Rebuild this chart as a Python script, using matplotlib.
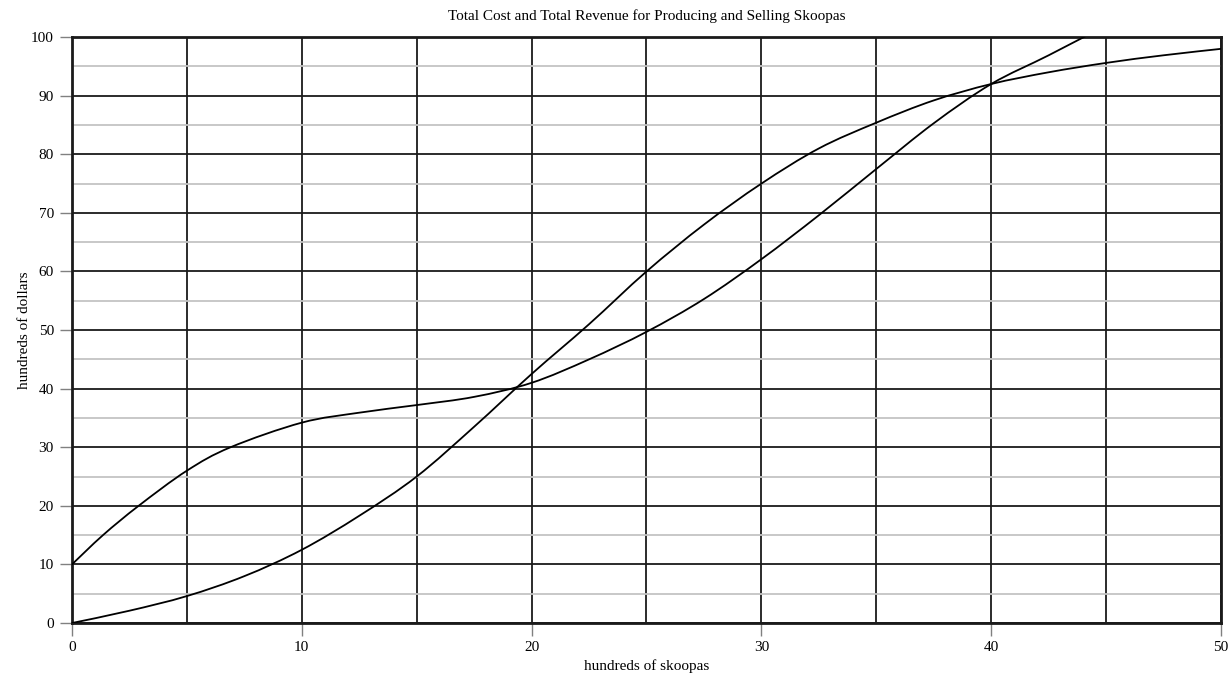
"""Total cost and total revenue curves for skoopas, drawn on a ruled grid."""

import matplotlib
matplotlib.use("Agg")
import matplotlib.pyplot as plt
from matplotlib.patches import PathPatch
from matplotlib.path import Path
from matplotlib.ticker import MultipleLocator


TITLE = "Total Cost and Total Revenue for Producing and Selling Skoopas"
X_LABEL = "hundreds of skoopas"
Y_LABEL = "hundreds of dollars"

# total cost (hundreds of skoopas -> hundreds of dollars)
COST_X = [0, 1.35, 2.9, 5, 6.9, 10, 12.5, 15, 17.5, 20, 22.5, 25, 27.5, 30,
          32.5, 35, 37.5, 40, 42.5, 45]
COST_Y = [10, 15, 20, 26, 30, 34.2, 35.9, 37.2, 38.6, 41, 45, 49.7, 55.3, 62.1,
          69.6, 77.5, 85.3, 92, 96.9, 102]

# total revenue
REVENUE_X = [0, 2.5, 5, 7.5, 10, 12.5, 15, 17.5, 20, 22.5, 25, 27.5, 30, 32.5,
             35, 37.5, 40, 42.5, 45, 47.5, 50]
REVENUE_Y = [0, 2.1, 4.6, 8.0, 12.5, 18.3, 25, 33.5, 42.5, 51, 60, 68, 75, 81,
             85.4, 89.2, 92, 94, 95.6, 96.9, 98]

SERIF = ["Liberation Serif", "DejaVu Serif"]


def smooth_path(xs, ys) -> Path:
    """Catmull-Rom curve through the points, as cubic Bezier segments."""
    pts = list(zip(xs, ys))
    verts = [pts[0]]
    codes = [Path.MOVETO]
    for i in range(len(pts) - 1):
        p0 = pts[i - 1] if i > 0 else pts[i]
        p1 = pts[i]
        p2 = pts[i + 1]
        p3 = pts[i + 2] if i + 2 < len(pts) else pts[i + 1]
        c1 = (p1[0] + (p2[0] - p0[0]) / 6, p1[1] + (p2[1] - p0[1]) / 6)
        c2 = (p2[0] - (p3[0] - p1[0]) / 6, p2[1] - (p3[1] - p1[1]) / 6)
        verts += [c1, c2, p2]
        codes += [Path.CURVE4] * 3
    return Path(verts, codes)


def main() -> None:
    plt.rcParams["font.family"] = SERIF
    fig = plt.figure(figsize=(12.32, 6.75), dpi=100)
    ax = fig.add_axes([0.0584, 0.077, 0.9327, 0.868])

    for xs, ys in ((COST_X, COST_Y), (REVENUE_X, REVENUE_Y)):
        patch = PathPatch(smooth_path(xs, ys), fill=False, edgecolor="black",
                          linewidth=1.3, zorder=3)
        ax.add_patch(patch)

    ax.set_xlim(0, 50)
    ax.set_ylim(0, 100)

    ax.xaxis.set_major_locator(MultipleLocator(10))
    ax.xaxis.set_minor_locator(MultipleLocator(5))
    ax.yaxis.set_major_locator(MultipleLocator(10))
    ax.yaxis.set_minor_locator(MultipleLocator(5))

    ax.grid(True, which="major", axis="both", color="#1a1a1a", linewidth=1.3)
    ax.grid(True, which="minor", axis="x", color="#1a1a1a", linewidth=1.3)
    ax.grid(True, which="minor", axis="y", color="#c4c4c4", linewidth=1.3)
    ax.set_axisbelow(True)

    ax.tick_params(which="major", direction="out", length=9, width=1,
                   color="#808080", labelsize=11, pad=4)
    ax.tick_params(which="minor", length=0)

    for spine in ax.spines.values():
        spine.set_color("#1a1a1a")
        spine.set_linewidth(2)

    ax.set_title(TITLE, fontsize=11, pad=12)
    ax.set_xlabel(X_LABEL, fontsize=11, labelpad=4)
    ax.set_ylabel(Y_LABEL, fontsize=11, labelpad=0)

    fig.savefig("out.png", dpi=100)
    plt.close(fig)


if __name__ == "__main__":
    main()
